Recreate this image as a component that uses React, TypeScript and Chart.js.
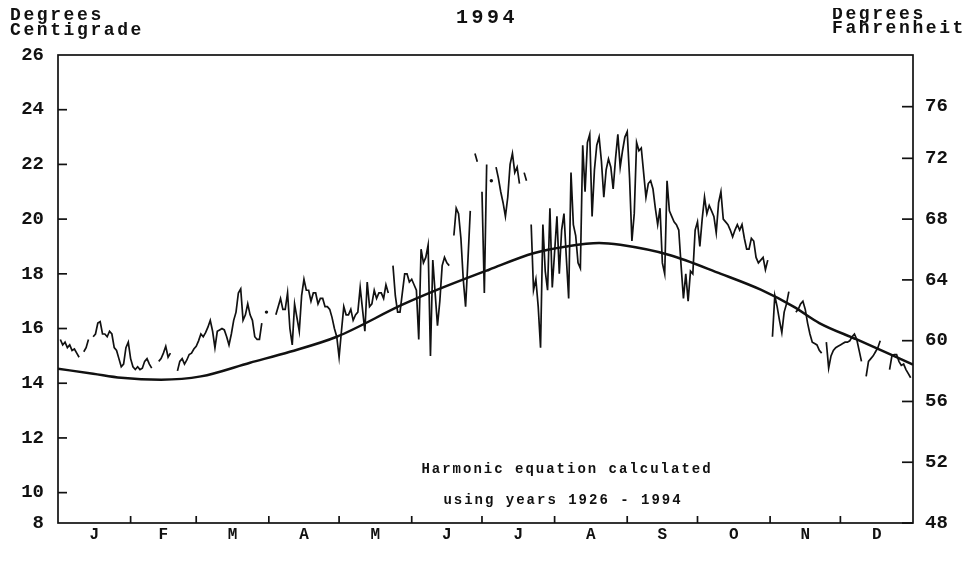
import React, { useEffect, useRef } from 'react';
import { Chart, registerables } from 'chart.js';

Chart.register(...registerables);

// ---------- data ----------
const chartTitle = '1994';
const leftUnitLines = ['Degrees', 'Centigrade'];
const rightUnitLines = ['Degrees', 'Fahrenheit'];
const noteLines = ['Harmonic equation calculated', 'using years 1926 - 1994'];

const monthLabels = ['J', 'F', 'M', 'A', 'M', 'J', 'J', 'A', 'S', 'O', 'N', 'D'];
const monthStartDays = [0, 31, 59, 90, 120, 151, 181, 212, 243, 273, 304, 334, 365];

const celsiusTicks = [10, 12, 14, 16, 18, 20, 22, 24, 26];
const celsiusBottomLabel = '8';
const celsiusMin = 8.89;
const celsiusMax = 26;
const fahrenheitTicks = [48, 52, 56, 60, 64, 68, 72, 76];
// where the original figure printed each Fahrenheit tick (its 76 tick sits a little low)
const fahrenheitTickAt = [48, 52, 56, 60, 64, 68, 72, 75.4];

// daily temperature, index 0 = day 1 (null = no observation)
const dailyTemps: (number | null)[] = [
  15.6, 15.4, 15.5, 15.3, 15.4, 15.2, 15.25, 15.1, 14.95, null,
  15.15, 15.3, 15.6, null, 15.7, 15.8, 16.2, 16.25, 15.8, 15.8,
  15.7, 15.9, 15.8, 15.3, 15.2, 14.9, 14.6, 14.7, 15.3, 15.5,
  14.9, 14.6, 14.5, 14.6, 14.5, 14.55, 14.8, 14.9, 14.7, 14.55,
  null, null, 14.8, 14.9, 15.1, 15.35, 14.95, 15.1, null, null,
  14.45, 14.8, 14.9, 14.7, 14.85, 15.05, 15.1, 15.25, 15.35, 15.55,
  15.8, 15.7, 15.85, 16.05, 16.3, 15.9, 15.3, 15.9, 15.95, 16.0,
  15.95, 15.7, 15.4, 15.8, 16.3, 16.6, 17.3, 17.45, 16.3, 16.5,
  16.9, 16.5, 16.3, 15.7, 15.6, 15.6, 16.2, null, 16.6, null,
  null, null, 16.5, 16.8, 17.1, 16.7, 16.7, 17.3, 16.0, 15.4,
  16.9, 16.4, 15.9, 17.2, 17.8, 17.4, 17.4, 17.0, 17.3, 17.3,
  16.9, 17.1, 17.1, 16.8, 16.8, 16.7, 16.4, 16.0, 15.7, 14.95,
  15.9, 16.8, 16.5, 16.5, 16.7, 16.3, 16.5, 16.6, 17.5, 16.7,
  15.9, 17.7, 16.8, 16.9, 17.4, 17.1, 17.3, 17.3, 17.1, 17.6,
  17.3, null, 18.3, 17.2, 16.6, 16.6, 17.3, 18.0, 18.0, 17.7,
  17.8, 17.6, 17.4, 15.6, 18.9, 18.4, 18.6, 19.05, 15.0, 18.5,
  17.3, 16.1, 17.0, 18.3, 18.6, 18.4, 18.3, null, 19.4, 20.4,
  20.2, 19.3, 17.8, 16.8, 18.5, 20.3, null, 22.4, 22.1, null,
  21.0, 17.3, 22.0, null, 21.4, null, 21.9, 21.5, 21.0, 20.6,
  20.1, 20.8, 22.0, 22.4, 21.7, 21.9, 21.3, null, 21.7, 21.4,
  null, 19.8, 17.4, 17.8, 16.8, 15.3, 19.8, 18.1, 17.4, 20.4,
  17.5, 18.8, 20.1, 18.0, 19.6, 20.2, 18.6, 17.1, 21.7, 19.8,
  19.4, 18.4, 18.2, 22.7, 21.0, 22.8, 23.1, 20.1, 21.8, 22.7,
  23.0, 22.1, 20.8, 21.8, 22.2, 21.9, 21.1, 22.2, 23.1, 21.9,
  22.5, 23.0, 23.2, 21.5, 19.2, 20.2, 22.8, 22.5, 22.6, 21.7,
  20.8, 21.3, 21.4, 21.1, 20.4, 19.8, 20.4, 18.4, 18.0, 21.4,
  20.3, 20.1, 19.9, 19.8, 19.6, 18.3, 17.1, 18.0, 17.0, 18.1,
  18.0, 19.6, 19.9, 19.0, 20.0, 20.8, 20.2, 20.5, 20.3, 20.1,
  19.5, 20.6, 21.0, 20.0, 19.9, 19.8, 19.6, 19.35, 19.6, 19.8,
  19.6, 19.8, 19.3, 18.9, 18.9, 19.3, 19.2, 18.6, 18.4, 18.5,
  18.6, 18.15, 18.5, null, 15.7, 17.2, 16.8, 16.3, 15.85, 16.6,
  16.9, 17.35, null, null, 16.6, 16.7, 16.9, 17.0, 16.7, 16.2,
  15.8, 15.5, 15.45, 15.4, 15.2, 15.1, null, 15.5, 14.55, 15.0,
  15.2, 15.3, 15.35, 15.4, 15.45, 15.5, 15.5, 15.55, 15.7, 15.8,
  15.6, 15.2, 14.8, null, 14.25, 14.8, 14.9, 15.0, 15.15, 15.3,
  15.55, null, null, null, 14.5, 15.0, 15.05, 15.05, 14.8, 14.65,
  14.7, 14.5, 14.35, 14.2,
];

// harmonic (long-term) curve
const harmonicDays = [0, 15, 27, 44, 61, 82, 99, 119, 147, 162, 184, 203, 217, 231, 240, 261, 283, 300, 314, 325, 341, 365];
const harmonicTemps = [14.53, 14.35, 14.2, 14.13, 14.25, 14.75, 15.15, 15.7, 16.87, 17.42, 18.15, 18.75, 19.0, 19.13, 19.06, 18.69, 18.0, 17.42, 16.8, 16.2, 15.6, 14.68];

// ---------- helpers ----------
const INK = '#111111';
const FONT = '"Liberation Mono", "Courier New", monospace';
const toF = (c: number) => c * 1.8 + 32;
const W = 974;
const H = 572;

const decorPlugin = {
  id: 'decor',
  afterDraw(chart: any) {
    const { ctx, chartArea: ca, scales } = chart;
    const xs = scales.x;
    const yl = scales.y;
    const yr = scales.yF;
    ctx.save();
    ctx.strokeStyle = INK;
    ctx.lineWidth = 1.7;
    ctx.strokeRect(ca.left, ca.top, ca.right - ca.left, ca.bottom - ca.top);
    const seg = (x1: number, y1: number, x2: number, y2: number) => {
      ctx.beginPath();
      ctx.moveTo(x1, y1);
      ctx.lineTo(x2, y2);
      ctx.stroke();
    };
    monthStartDays.slice(1, -1).forEach((d) => {
      const px = xs.getPixelForValue(d);
      seg(px, ca.bottom, px, ca.bottom - 7);
    });
    celsiusTicks.forEach((v) => {
      if (v >= celsiusMax) return;
      const py = yl.getPixelForValue(v);
      seg(ca.left, py, ca.left + 9, py);
    });
    fahrenheitTickAt.forEach((v) => {
      const py = yr.getPixelForValue(v);
      seg(ca.right - 11, py, ca.right, py);
    });

    ctx.fillStyle = INK;
    ctx.textBaseline = 'middle';
    ctx.font = `bold 18px ${FONT}`;
    (ctx as any).letterSpacing = '2.6px';
    ctx.textAlign = 'left';
    ctx.fillText(leftUnitLines[0], 10, 15);
    ctx.fillText(leftUnitLines[1], 10, 30);
    ctx.fillText(rightUnitLines[0], 832, 14);
    ctx.fillText(rightUnitLines[1], 832, 28);
    ctx.font = `bold 20px ${FONT}`;
    (ctx as any).letterSpacing = '3.5px';
    ctx.textAlign = 'center';
    ctx.fillText(chartTitle, 487, 18);

    ctx.font = `bold 14px ${FONT}`;
    (ctx as any).letterSpacing = '2px';
    ctx.fillText(noteLines[0], 567, 469);
    ctx.fillText(noteLines[1], 563, 500);
    ctx.restore();
  },
};

export default function App() {
  const canvasRef = useRef<HTMLCanvasElement | null>(null);

  useEffect(() => {
    const canvas = canvasRef.current;
    if (!canvas) return;

    const obsPoints = dailyTemps.map((t, i) => ({ x: i + 1, y: t }));
    const harmPoints = harmonicDays.map((d, i) => ({ x: d, y: harmonicTemps[i] }));
    const monthMids = monthLabels.map((_, i) => (monthStartDays[i] + monthStartDays[i + 1]) / 2);

    const chart = new Chart(canvas, {
      type: 'line',
      data: {
        datasets: [
          {
            label: 'Daily',
            data: obsPoints as any,
            borderColor: INK,
            borderWidth: 1.7,
            tension: 0,
            spanGaps: false,
            pointBackgroundColor: INK,
            pointBorderWidth: 0,
            pointRadius: (c: any) => {
              const d = c.dataset.data;
              const i = c.dataIndex;
              if (!d[i] || d[i].y == null) return 0;
              const p = d[i - 1];
              const n = d[i + 1];
              const isolated = (!p || p.y == null) && (!n || n.y == null);
              return isolated ? 1.7 : 0;
            },
            xAxisID: 'x',
            yAxisID: 'y',
          },
          {
            label: 'Harmonic',
            data: harmPoints as any,
            borderColor: INK,
            borderWidth: 2.5,
            cubicInterpolationMode: 'monotone',
            pointRadius: 0,
            xAxisID: 'x',
            yAxisID: 'y',
          },
        ],
      },
      options: {
        animation: false,
        responsive: false,
        maintainAspectRatio: false,
        layout: { padding: { top: 55, left: 0, right: 0, bottom: 0 } },
        plugins: { legend: { display: false }, tooltip: { enabled: false }, title: { display: false } },
        scales: {
          x: {
            type: 'linear',
            min: 0,
            max: 365,
            grid: { display: false, drawTicks: false },
            border: { display: false },
            afterBuildTicks: (s: any) => {
              s.ticks = monthMids.map((v) => ({ value: v }));
            },
            afterFit: (s: any) => {
              s.height = 49;
            },
            ticks: {
              autoSkip: false,
              maxRotation: 0,
              padding: 2,
              color: INK,
              font: { family: FONT, size: 16, weight: 'bold' },
              callback: (_v: any, i: number) => monthLabels[i],
            },
          },
          y: {
            type: 'linear',
            position: 'left',
            min: celsiusMin,
            max: celsiusMax,
            grid: { display: false, drawTicks: false },
            border: { display: false },
            afterBuildTicks: (s: any) => {
              s.ticks = [{ value: celsiusMin }, ...celsiusTicks.map((v) => ({ value: v }))];
            },
            afterFit: (s: any) => {
              s.width = 58;
            },
            ticks: {
              autoSkip: false,
              padding: 14,
              color: INK,
              font: { family: FONT, size: 19, weight: 'bold' },
              callback: (v: any) => (v < celsiusTicks[0] ? celsiusBottomLabel : String(v)),
            },
          },
          yF: {
            type: 'linear',
            position: 'right',
            min: toF(celsiusMin),
            max: toF(celsiusMax),
            grid: { display: false, drawTicks: false },
            border: { display: false },
            afterBuildTicks: (s: any) => {
              s.ticks = fahrenheitTickAt.map((v) => ({ value: v }));
            },
            afterFit: (s: any) => {
              s.width = W - 913;
            },
            ticks: {
              autoSkip: false,
              padding: 12,
              color: INK,
              font: { family: FONT, size: 19, weight: 'bold' },
              callback: (_v: any, i: number) => String(fahrenheitTicks[i]),
            },
          },
        },
      },
      plugins: [decorPlugin],
    });

    return () => chart.destroy();
  }, []);

  return (
    <div style={{ margin: -8, width: W, height: H }}>
      <canvas ref={canvasRef} width={W} height={H} style={{ display: 'block' }} />
    </div>
  );
}
